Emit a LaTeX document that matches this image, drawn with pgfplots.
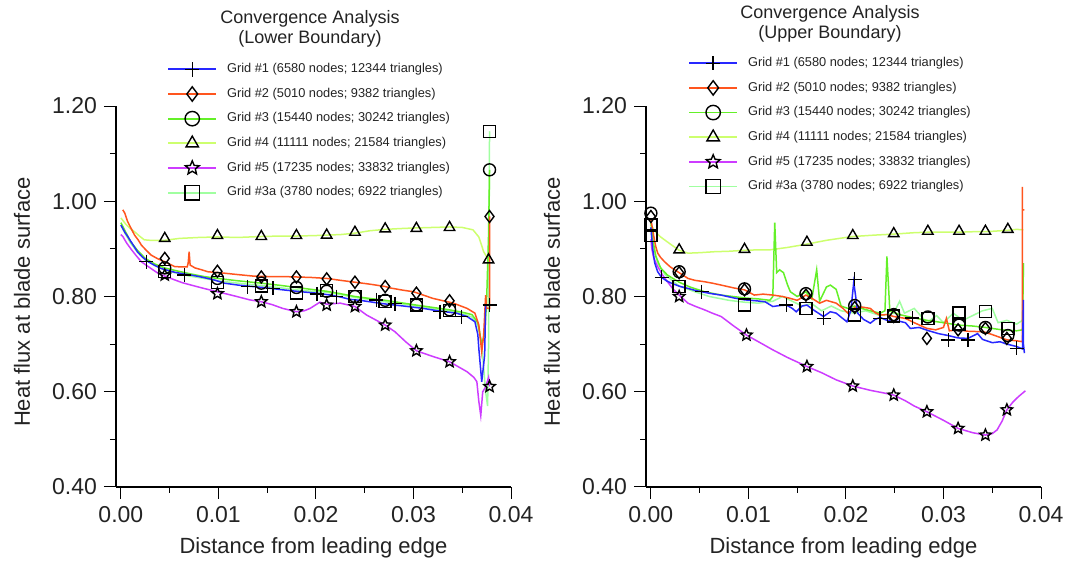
\documentclass[border=0pt]{standalone}
\usepackage{fontspec}
\setmainfont{Liberation Sans}
\usepackage{pgfplots}
\pgfplotsset{compat=1.18}
\definecolor{cGa}{RGB}{40,40,255}
\definecolor{cGb}{RGB}{255,85,30}
\definecolor{cGc}{RGB}{100,240,40}
\definecolor{cGd}{RGB}{205,255,110}
\definecolor{cGe}{RGB}{205,60,255}
\definecolor{cGf}{RGB}{160,255,160}
\definecolor{txt}{RGB}{35,35,35}
\pgfdeclareplotmark{pstar}{%
  \pgfpathmoveto{\pgfpointpolar{90}{\pgfplotmarksize}}%
  \pgfpathlineto{\pgfpointpolar{126}{0.45\pgfplotmarksize}}%
  \pgfpathlineto{\pgfpointpolar{162}{\pgfplotmarksize}}%
  \pgfpathlineto{\pgfpointpolar{198}{0.45\pgfplotmarksize}}%
  \pgfpathlineto{\pgfpointpolar{234}{\pgfplotmarksize}}%
  \pgfpathlineto{\pgfpointpolar{270}{0.45\pgfplotmarksize}}%
  \pgfpathlineto{\pgfpointpolar{306}{\pgfplotmarksize}}%
  \pgfpathlineto{\pgfpointpolar{342}{0.45\pgfplotmarksize}}%
  \pgfpathlineto{\pgfpointpolar{18}{\pgfplotmarksize}}%
  \pgfpathlineto{\pgfpointpolar{54}{0.45\pgfplotmarksize}}%
  \pgfpathclose\pgfusepathqstroke}
\pgfplotsset{
 hf/.style={
  scale only axis, width=197.5pt, height=190.5pt,
  xmin=-0.0005, xmax=0.04, ymin=0.4, ymax=1.2,
  axis x line*=bottom, axis y line*=left,
  axis line style={line width=0.6pt, black},
  tick align=outside, major tick length=6pt, minor tick length=3pt,
  every tick/.style={black, line width=0.5pt},
  xtick={0,0.01,0.02,0.03,0.04}, ytick={0.4,0.6,0.8,1.0,1.2},
  minor x tick num=1, minor y tick num=1,
  scaled x ticks=false, scaled y ticks=false,
  /pgf/number format/fixed, /pgf/number format/fixed zerofill,
  /pgf/number format/precision=2, /pgf/number format/assume math mode=true,
  tick label style={font=\fontsize{11.5}{13}\selectfont, text=txt},
  label style={font=\fontsize{11}{13}\selectfont, text=txt},
  xlabel={Distance from leading edge},
  ylabel={Heat flux at blade surface},
  xlabel style={at={(axis description cs:0.5,-0.16)}, anchor=center},
  ylabel style={at={(axis description cs:-0.238,0.485)}, anchor=center},
  clip=false,
  legend style={draw=none, fill=none, font=\fontsize{6.4}{7.5}\selectfont, text=txt,
    anchor=north west, row sep=2.2pt, inner sep=0pt,
    /tikz/every odd column/.append style={column sep=3pt},
    /tikz/every even column/.append style={column sep=9pt}},
  legend cell align=left,
 },
 ln/.style={no marks, line width=0.75pt, forget plot},
 mk/.style={only marks, forget plot, mark size=3pt, mark options={draw=black, fill=none, solid, line width=0.7pt}},
 lgimg/.style 2 args={legend image code/.code={%
   \draw[draw=#1, line width=0.9pt] (0pt,0pt) -- (24pt,0pt);
   \draw[draw=black, fill=none, line width=0.7pt, mark size=3.6pt] plot[mark=#2, only marks] coordinates {(12pt,0pt)};}},
}
\newcommand{\legendset}{%
\addlegendimage{lgimg={cGa}{+}}
\addlegendentry{Grid \#1 (6580 nodes; 12344 triangles)}
\addlegendimage{lgimg={cGb}{diamond}}
\addlegendentry{Grid \#2 (5010 nodes; 9382 triangles)}
\addlegendimage{lgimg={cGc}{o}}
\addlegendentry{Grid \#3 (15440 nodes; 30242 triangles)}
\addlegendimage{lgimg={cGd}{triangle}}
\addlegendentry{Grid \#4 (11111 nodes; 21584 triangles)}
\addlegendimage{lgimg={cGe}{pstar}}
\addlegendentry{Grid \#5 (17235 nodes; 33832 triangles)}
\addlegendimage{lgimg={cGf}{square}}
\addlegendentry{Grid \#3a (3780 nodes; 6922 triangles)}}
\begin{document}
\begin{tikzpicture}
\useasboundingbox (0,0) rectangle (535.5pt,-282.5pt);
\node[align=center, font=\fontsize{9}{10}\selectfont, text=txt] at (155pt,-14.5pt) {Convergence Analysis\\(Lower Boundary)};
\node[align=center, font=\fontsize{9}{10}\selectfont, text=txt] at (415pt,-11.75pt) {Convergence Analysis\\(Upper Boundary)};
% ---------------- LEFT ----------------
\begin{axis}[hf, at={(58pt,-243.5pt)}, anchor=south west, legend style={at={(0.129,1.124)}}]
\legendset
% lines
\addplot[ln, cGf] coordinates {(0.0000,0.950)(0.0005,0.93)(0.0010,0.912)(0.0017,0.893)(0.0025,0.877)(0.0035,0.865)(0.0045,0.856)(0.0055,0.850)(0.0070,0.843)(0.0085,0.838)(0.0099,0.833)(0.0120,0.828)(0.0144,0.823)(0.0165,0.818)(0.0180,0.814)(0.0195,0.811)(0.0211,0.809)(0.0225,0.804)(0.0240,0.798)(0.0255,0.794)(0.0271,0.789)(0.0290,0.784)(0.0303,0.780)(0.0320,0.774)(0.0337,0.769)(0.0350,0.764)(0.0360,0.757)(0.0366,0.74)(0.0370,0.70)(0.0374,0.60)(0.0376,0.57)(0.0377,0.70)(0.0378,1.147)};
\addplot[ln, cGd] coordinates {(0.0000,0.965)(0.0005,0.952)(0.0010,0.942)(0.0014,0.936)(0.0019,0.927)(0.0024,0.919)(0.0030,0.918)(0.0045,0.918)(0.0060,0.922)(0.0080,0.924)(0.0099,0.925)(0.0120,0.924)(0.0144,0.926)(0.0165,0.927)(0.0180,0.927)(0.0200,0.928)(0.0211,0.929)(0.0225,0.930)(0.0240,0.933)(0.0255,0.938)(0.0271,0.941)(0.0290,0.943)(0.0303,0.944)(0.0320,0.945)(0.0337,0.946)(0.0350,0.945)(0.0361,0.940)(0.0367,0.925)(0.0372,0.894)(0.0377,0.877)};
\addplot[ln, cGc] coordinates {(0.0000,0.955)(0.0005,0.935)(0.0010,0.915)(0.0017,0.897)(0.0025,0.880)(0.0035,0.868)(0.0045,0.860)(0.0055,0.855)(0.0070,0.848)(0.0085,0.842)(0.0099,0.838)(0.0120,0.833)(0.0144,0.828)(0.0165,0.823)(0.0180,0.819)(0.0195,0.815)(0.0211,0.811)(0.0225,0.806)(0.0240,0.800)(0.0255,0.796)(0.0271,0.792)(0.0290,0.786)(0.0303,0.782)(0.0320,0.777)(0.0337,0.772)(0.0350,0.767)(0.0360,0.762)(0.0366,0.745)(0.0370,0.70)(0.0373,0.72)(0.0375,0.79)(0.0377,0.93)(0.0378,1.066)};
\addplot[ln, cGe] coordinates {(0.0000,0.930)(0.0002,0.926)(0.0006,0.912)(0.0011,0.898)(0.0016,0.885)(0.0021,0.873)(0.0030,0.860)(0.0038,0.849)(0.0046,0.842)(0.0055,0.835)(0.0063,0.829)(0.0072,0.824)(0.0085,0.817)(0.0099,0.810)(0.0115,0.802)(0.0132,0.793)(0.0144,0.789)(0.0155,0.783)(0.0166,0.775)(0.0180,0.768)(0.0188,0.770)(0.0194,0.775)(0.0204,0.788)(0.0211,0.784)(0.0225,0.786)(0.0240,0.779)(0.0252,0.761)(0.0262,0.750)(0.0271,0.740)(0.0281,0.726)(0.0292,0.705)(0.0303,0.686)(0.0320,0.674)(0.0337,0.663)(0.0355,0.642)(0.0362,0.630)(0.0365,0.621)(0.0367,0.58)(0.0369,0.55)(0.0371,0.60)(0.0374,0.61)(0.0377,0.63)(0.0378,0.611)};
\addplot[ln, cGb] coordinates {(0.0002,0.982)(0.0004,0.975)(0.0007,0.957)(0.0010,0.945)(0.0014,0.929)(0.0018,0.918)(0.0021,0.908)(0.0026,0.897)(0.0031,0.887)(0.0038,0.879)(0.0045,0.873)(0.0055,0.863)(0.0062,0.862)(0.0068,0.862)(0.0069,0.870)(0.0070,0.894)(0.0071,0.866)(0.0076,0.860)(0.0083,0.856)(0.0089,0.852)(0.0106,0.849)(0.0120,0.846)(0.0135,0.843)(0.0150,0.842)(0.0165,0.842)(0.0180,0.841)(0.0195,0.840)(0.0211,0.838)(0.0225,0.834)(0.0240,0.830)(0.0255,0.826)(0.0271,0.821)(0.0276,0.818)(0.0290,0.813)(0.0300,0.810)(0.0320,0.796)(0.0341,0.786)(0.0355,0.775)(0.0363,0.765)(0.0367,0.740)(0.0370,0.684)(0.0372,0.720)(0.0374,0.803)(0.0375,0.775)(0.0378,0.775)(0.0378,0.968)};
\addplot[ln, cGa] coordinates {(0.0000,0.950)(0.0004,0.935)(0.0007,0.926)(0.0012,0.91)(0.0017,0.894)(0.0022,0.883)(0.0028,0.873)(0.0035,0.865)(0.0041,0.859)(0.0048,0.855)(0.0055,0.851)(0.0063,0.848)(0.0072,0.845)(0.0080,0.842)(0.0089,0.838)(0.0097,0.834)(0.0106,0.828)(0.0120,0.824)(0.0135,0.821)(0.0150,0.818)(0.0166,0.814)(0.0180,0.811)(0.0190,0.809)(0.0201,0.807)(0.0215,0.803)(0.0225,0.799)(0.0235,0.794)(0.0245,0.792)(0.0255,0.789)(0.0265,0.786)(0.0276,0.783)(0.0290,0.780)(0.0310,0.775)(0.0325,0.770)(0.0344,0.765)(0.0355,0.758)(0.0363,0.747)(0.0366,0.72)(0.0367,0.691)(0.0370,0.621)(0.0373,0.677)(0.0374,0.782)(0.0378,0.782)};
% markers
\addplot[mk, mark=square] coordinates {(0.0045,0.852)(0.0099,0.830)(0.0144,0.822)(0.0180,0.807)(0.0211,0.812)(0.0240,0.800)(0.0271,0.789)(0.0303,0.782)(0.0337,0.770)(0.0378,1.147)};
\addplot[mk, mark=triangle] coordinates {(0.0045,0.922)(0.0099,0.928)(0.0144,0.926)(0.0180,0.928)(0.0211,0.929)(0.0240,0.935)(0.0271,0.942)(0.0303,0.943)(0.0337,0.945)(0.0377,0.877)};
\addplot[mk, mark=o] coordinates {(0.0045,0.86)(0.0099,0.838)(0.0144,0.828)(0.0180,0.819)(0.0211,0.811)(0.0240,0.800)(0.0271,0.792)(0.0303,0.782)(0.0337,0.772)(0.0378,1.066)};
\addplot[mk, mark=pstar] coordinates {(0.0045,0.845)(0.0099,0.806)(0.0144,0.789)(0.0180,0.768)(0.0211,0.782)(0.0240,0.779)(0.0271,0.740)(0.0303,0.686)(0.0337,0.663)(0.0378,0.611)};
\addplot[mk, mark=diamond] coordinates {(0.0045,0.880)(0.0099,0.853)(0.0144,0.841)(0.0180,0.841)(0.0211,0.837)(0.0240,0.830)(0.0271,0.821)(0.0303,0.807)(0.0337,0.791)(0.0378,0.968)};
\addplot[mk, mark=+, mark size=3.5pt] coordinates {(0.0026,0.873)(0.0065,0.845)(0.0130,0.821)(0.0156,0.817)(0.0201,0.805)(0.0221,0.800)(0.0262,0.793)(0.0281,0.785)(0.0327,0.768)(0.0349,0.758)(0.0378,0.782)};
\end{axis}
% ---------------- RIGHT ----------------
\begin{axis}[hf, at={(323pt,-243.5pt)}, anchor=south west, legend style={at={(0.106,1.140)}}]
\legendset
\addplot[ln, cGf] coordinates {(0.0000,0.945)(0.0003,0.90)(0.0007,0.87)(0.0015,0.845)(0.0029,0.822)(0.0045,0.81)(0.0060,0.80)(0.0080,0.792)(0.0096,0.788)(0.0110,0.786)(0.0125,0.79)(0.0135,0.80)(0.0145,0.79)(0.0155,0.78)(0.0165,0.785)(0.0175,0.77)(0.0185,0.78)(0.0195,0.77)(0.0209,0.765)(0.0220,0.77)(0.0235,0.76)(0.0249,0.765)(0.0255,0.79)(0.0260,0.765)(0.0270,0.775)(0.0283,0.745)(0.0293,0.76)(0.0300,0.745)(0.0310,0.765)(0.0320,0.75)(0.0330,0.76)(0.0340,0.77)(0.0350,0.775)(0.0356,0.745)(0.0365,0.75)(0.0375,0.742)(0.0381,0.75)(0.0382,0.87)};
\addplot[ln, cGd] coordinates {(0.0000,0.950)(0.0005,0.935)(0.0010,0.925)(0.0014,0.919)(0.0020,0.91)(0.0029,0.897)(0.0038,0.891)(0.0050,0.892)(0.0065,0.894)(0.0080,0.895)(0.0096,0.897)(0.0110,0.898)(0.0122,0.898)(0.0140,0.903)(0.0160,0.910)(0.0180,0.918)(0.0200,0.924)(0.0207,0.926)(0.0230,0.929)(0.0249,0.931)(0.0270,0.934)(0.0284,0.935)(0.0300,0.935)(0.0316,0.935)(0.0330,0.936)(0.0343,0.936)(0.0366,0.939)(0.0375,0.941)(0.0382,0.940)};
\addplot[ln, cGc] coordinates {(0.0000,0.955)(0.0002,0.92)(0.0005,0.885)(0.0010,0.86)(0.0017,0.845)(0.0029,0.83)(0.0040,0.82)(0.0055,0.81)(0.0072,0.803)(0.0096,0.797)(0.0110,0.795)(0.0122,0.792)(0.0125,0.80)(0.0127,0.955)(0.0129,0.85)(0.0132,0.856)(0.0136,0.850)(0.0140,0.825)(0.0143,0.81)(0.0150,0.80)(0.0159,0.81)(0.0165,0.795)(0.0170,0.856)(0.0173,0.79)(0.0180,0.82)(0.0184,0.824)(0.0190,0.815)(0.0195,0.78)(0.0202,0.775)(0.0209,0.78)(0.0216,0.775)(0.0225,0.77)(0.0235,0.765)(0.0240,0.77)(0.0242,0.884)(0.0245,0.77)(0.0255,0.762)(0.0270,0.755)(0.0283,0.75)(0.0300,0.745)(0.0315,0.74)(0.0330,0.738)(0.0343,0.735)(0.0360,0.73)(0.0375,0.728)(0.0381,0.73)(0.0382,0.87)};
\addplot[ln, cGe] coordinates {(0.0000,0.92)(0.0001,0.90)(0.0003,0.88)(0.0007,0.863)(0.0012,0.845)(0.0017,0.831)(0.0023,0.815)(0.0029,0.803)(0.0038,0.786)(0.0046,0.779)(0.0055,0.772)(0.0063,0.765)(0.0072,0.758)(0.0085,0.738)(0.0098,0.719)(0.0112,0.703)(0.0125,0.688)(0.0140,0.672)(0.0160,0.653)(0.0175,0.640)(0.0190,0.625)(0.0207,0.612)(0.0225,0.603)(0.0240,0.597)(0.0249,0.593)(0.0261,0.581)(0.0270,0.570)(0.0283,0.558)(0.0300,0.540)(0.0315,0.523)(0.0330,0.514)(0.0343,0.509)(0.0350,0.512)(0.0355,0.520)(0.0360,0.538)(0.0365,0.562)(0.0371,0.578)(0.0377,0.590)(0.0384,0.602)};
\addplot[ln, cGb] coordinates {(0.0000,0.961)(0.0001,0.95)(0.0003,0.926)(0.0005,0.905)(0.0007,0.891)(0.0010,0.882)(0.0014,0.873)(0.0020,0.862)(0.0029,0.850)(0.0038,0.838)(0.0045,0.834)(0.0055,0.831)(0.0063,0.828)(0.0072,0.824)(0.0085,0.818)(0.0096,0.814)(0.0106,0.803)(0.0115,0.805)(0.0125,0.803)(0.0135,0.800)(0.0143,0.796)(0.0150,0.792)(0.0159,0.803)(0.0166,0.795)(0.0173,0.786)(0.0180,0.792)(0.0190,0.786)(0.0197,0.775)(0.0202,0.765)(0.0209,0.777)(0.0216,0.778)(0.0225,0.775)(0.0230,0.766)(0.0235,0.761)(0.0242,0.762)(0.0249,0.758)(0.0255,0.756)(0.0261,0.754)(0.0270,0.745)(0.0283,0.733)(0.0292,0.730)(0.0300,0.735)(0.0303,0.754)(0.0306,0.728)(0.0315,0.730)(0.0325,0.727)(0.0341,0.726)(0.0350,0.720)(0.0365,0.709)(0.0375,0.707)(0.0381,0.705)(0.0381,0.982)(0.0383,0.982)(0.0381,0.982)(0.0381,1.03)};
\addplot[ln, cGa] coordinates {(0.0000,0.945)(0.0001,0.92)(0.0002,0.898)(0.0004,0.870)(0.0007,0.852)(0.0011,0.840)(0.0016,0.833)(0.0021,0.828)(0.0030,0.821)(0.0038,0.817)(0.0045,0.813)(0.0052,0.810)(0.0062,0.806)(0.0072,0.803)(0.0085,0.797)(0.0096,0.793)(0.0108,0.791)(0.0117,0.789)(0.0125,0.779)(0.0132,0.781)(0.0139,0.782)(0.0145,0.775)(0.0149,0.768)(0.0155,0.780)(0.0160,0.782)(0.0168,0.770)(0.0177,0.758)(0.0184,0.768)(0.0190,0.765)(0.0196,0.755)(0.0201,0.747)(0.0205,0.770)(0.0208,0.830)(0.0210,0.800)(0.0212,0.765)(0.0218,0.752)(0.0225,0.744)(0.0230,0.752)(0.0235,0.756)(0.0242,0.750)(0.0249,0.747)(0.0255,0.748)(0.0261,0.745)(0.0266,0.733)(0.0275,0.735)(0.0285,0.728)(0.0295,0.722)(0.0305,0.718)(0.0315,0.713)(0.0325,0.712)(0.0335,0.722)(0.0340,0.710)(0.0350,0.703)(0.0358,0.705)(0.0365,0.700)(0.0375,0.695)(0.0381,0.690)(0.0382,0.793)(0.0382,0.70)(0.0383,0.681)};
\addplot[mk, mark=square] coordinates {(0.0000,0.950)(0.0000,0.928)(0.0029,0.821)(0.0096,0.782)(0.0159,0.775)(0.0209,0.761)(0.0249,0.759)(0.0284,0.754)(0.0316,0.765)(0.0316,0.742)(0.0343,0.768)(0.0366,0.733)};
\addplot[mk, mark=triangle] coordinates {(0.0029,0.898)(0.0096,0.899)(0.0160,0.914)(0.0207,0.928)(0.0249,0.932)(0.0284,0.937)(0.0316,0.937)(0.0343,0.937)(0.0366,0.941)};
\addplot[mk, mark=o] coordinates {(0.0000,0.975)(0.0029,0.852)(0.0096,0.816)(0.0159,0.806)(0.0209,0.781)(0.0249,0.762)(0.0284,0.757)(0.0316,0.740)(0.0343,0.735)(0.0366,0.718)};
\addplot[mk, mark=pstar] coordinates {(0.0029,0.800)(0.0098,0.719)(0.0160,0.653)(0.0207,0.612)(0.0249,0.593)(0.0283,0.558)(0.0315,0.523)(0.0343,0.509)(0.0365,0.562)};
\addplot[mk, mark=diamond] coordinates {(0.0000,0.968)(0.0029,0.850)(0.0096,0.814)(0.0159,0.803)(0.0209,0.777)(0.0249,0.758)(0.0283,0.712)(0.0315,0.730)(0.0343,0.733)(0.0365,0.712)};
\addplot[mk, mark=+, mark size=3.5pt] coordinates {(0.0011,0.840)(0.0052,0.810)(0.0139,0.782)(0.0177,0.754)(0.0209,0.836)(0.0235,0.754)(0.0268,0.755)(0.0305,0.709)(0.0325,0.709)(0.0375,0.691)};
\end{axis}
\end{tikzpicture}
\end{document}
